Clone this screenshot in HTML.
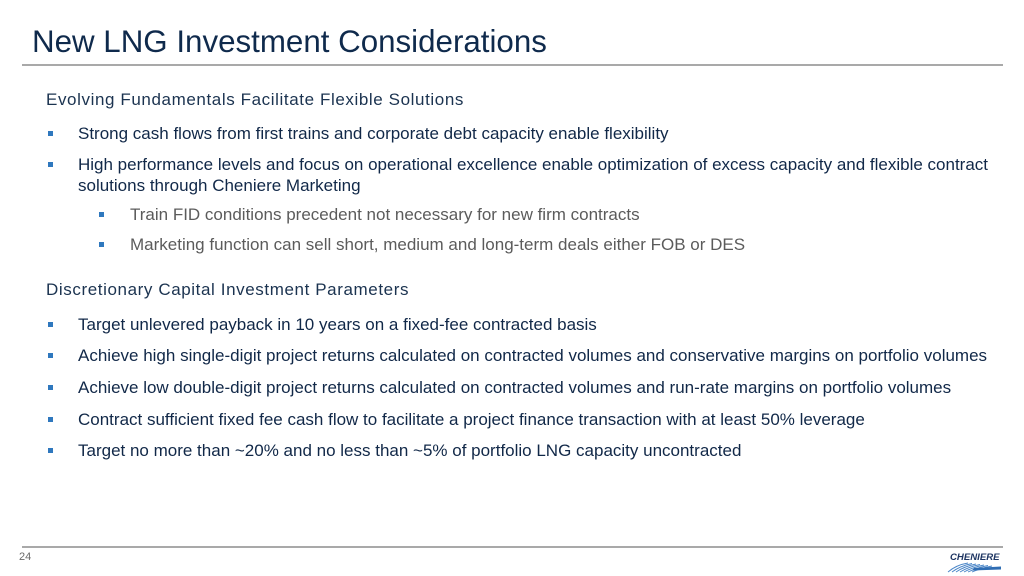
<!DOCTYPE html>
<html>
<head>
<meta charset="utf-8">
<style>
  html, body { margin: 0; padding: 0; }
  body { width: 1024px; height: 576px; position: relative; background: #ffffff; overflow: hidden;
         font-family: "Liberation Sans", Arial, sans-serif; }
  .abs { position: absolute; white-space: nowrap; }
  .title { left: 32px; top: 26px; font-size: 31.3px; line-height: 31.3px; color: #0f2a4c; }
  .rule { position: absolute; left: 22px; width: 981px; height: 2px; background: #a9a9a9; }
  .head { font-size: 17px; line-height: 17px; color: #1b3350; letter-spacing: 0.6px; left: 46px; }
  .b1 { font-size: 17px; line-height: 17px; color: #112848; left: 78px; }
  .b2 { font-size: 17px; line-height: 17px; color: #5b5b5b; left: 130px; }
  .sq { position: absolute; width: 5px; height: 5px; background: #2f78be; }
  .pg { left: 19px; top: 552px; font-size: 11px; line-height: 11px; color: #6a6a6a; }
  .logo { left: 950px; top: 553px; font-size: 9.6px; line-height: 10px; font-weight: bold; font-style: italic; color: #1d3461; }
</style>
</head>
<body>

<div class="abs title">New LNG Investment Considerations</div>
<div class="rule" style="top:64px;"></div>

<div class="abs head" style="top:90.6px;">Evolving Fundamentals Facilitate Flexible Solutions</div>

<div class="sq" style="left:48px; top:131px;"></div>
<div class="abs b1" style="top:125px;">Strong cash flows from first trains and corporate debt capacity enable flexibility</div>

<div class="sq" style="left:48px; top:162px;"></div>
<div class="abs b1" style="top:156.2px;">High performance levels and focus on operational excellence enable optimization of excess capacity and flexible contract</div>
<div class="abs b1" style="top:177.2px;">solutions through Cheniere Marketing</div>

<div class="sq" style="left:98.5px; top:211.5px;"></div>
<div class="abs b2" style="top:205.7px;">Train FID conditions precedent not necessary for new firm contracts</div>

<div class="sq" style="left:98.5px; top:241.5px;"></div>
<div class="abs b2" style="top:235.7px;">Marketing function can sell short, medium and long-term deals either FOB or DES</div>

<div class="abs head" style="top:280.9px;">Discretionary Capital Investment Parameters</div>

<div class="sq" style="left:48px; top:321.5px;"></div>
<div class="abs b1" style="top:315.7px;">Target unlevered payback in 10 years on a fixed-fee contracted basis</div>

<div class="sq" style="left:48px; top:353px;"></div>
<div class="abs b1" style="top:347.4px;">Achieve high single-digit project returns calculated on contracted volumes and conservative margins on portfolio volumes</div>

<div class="sq" style="left:48px; top:384.5px;"></div>
<div class="abs b1" style="top:379px;">Achieve low double-digit project returns calculated on contracted volumes and run-rate margins on portfolio volumes</div>

<div class="sq" style="left:48px; top:417px;"></div>
<div class="abs b1" style="top:411.4px;">Contract sufficient fixed fee cash flow to facilitate a project finance transaction with at least 50% leverage</div>

<div class="sq" style="left:48px; top:448px;"></div>
<div class="abs b1" style="top:442.4px;">Target no more than ~20% and no less than ~5% of portfolio LNG capacity uncontracted</div>

<div class="rule" style="top:545.5px;"></div>
<div class="abs pg">24</div>
<div class="abs logo">CHENIERE</div>
<svg style="position:absolute; left:944px; top:562px;" width="60" height="12" viewBox="0 0 60 12">
  <g stroke="#4a86c8" stroke-width="0.9" fill="none">
    <path d="M4 10 Q12 3 24 1"/>
    <path d="M8 10 Q16 4 28 1.5"/>
    <path d="M12 10 Q20 4.5 32 2"/>
    <path d="M16 10 Q24 5 36 2.5"/>
    <path d="M20 10 Q28 5.5 40 3"/>
    <path d="M24 10 Q32 6 44 3.5"/>
    <path d="M28 10 Q36 6.5 48 4"/>
  </g>
  <path d="M30 6 L57 4.5 L57 7.5 L28 8.5 Z" fill="#2f6db3"/>
</svg>

</body>
</html>
